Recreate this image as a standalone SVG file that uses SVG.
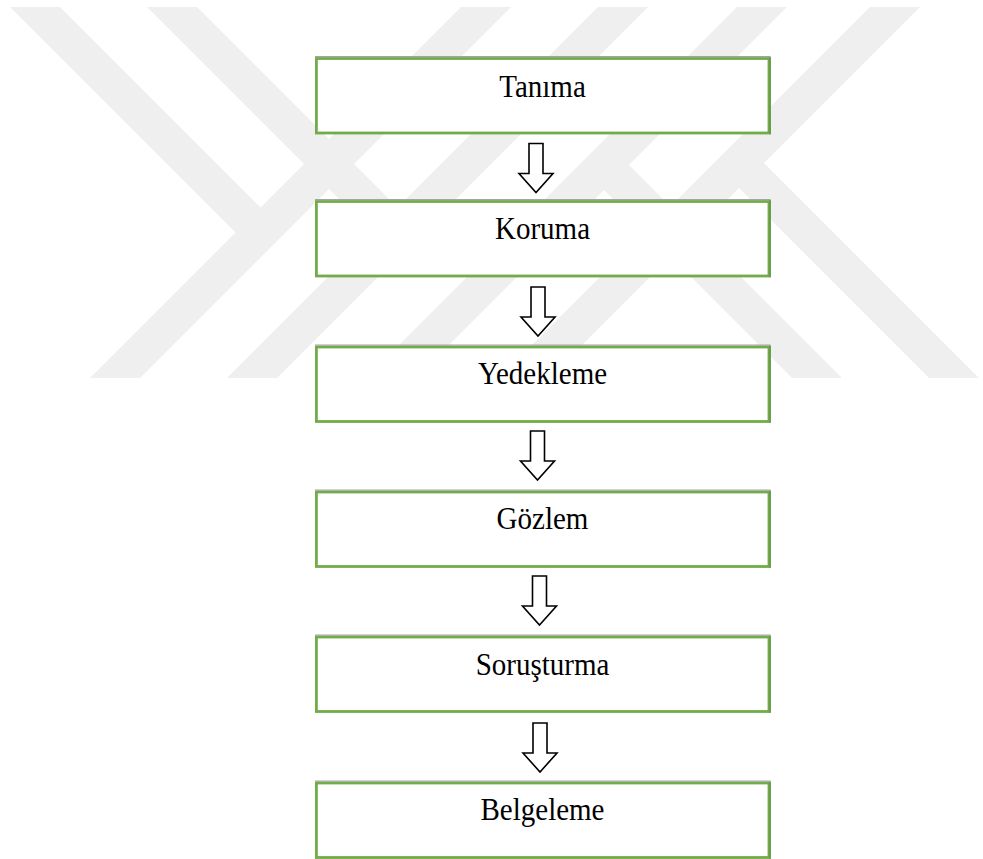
<svg xmlns="http://www.w3.org/2000/svg" width="983" height="859" viewBox="0 0 983 859">
  <defs>
    <style>
      .wm { fill: #efefef; }
      .box { fill: #ffffff; stroke: #70ad47; stroke-width: 2.8; }
      .topline { stroke: #a4a4a4; stroke-width: 1.2; }
      .rim { stroke: #4e7f33; stroke-width: 1; }
      .lbl { font-family: "Liberation Serif", "Times New Roman", serif; font-size: 29px; fill: #000000; text-anchor: middle; }
      .arr { fill: #ffffff; stroke: #000000; stroke-width: 1.6; stroke-linejoin: miter; }
    </style>
    <clipPath id="wmClip">
      <rect x="0" y="7" width="983" height="371"/>
    </clipPath>
    <!-- hollow block arrow pointing down, origin at top centre of the shaft -->
    <polygon id="downArrow" class="arr" points="-7,0 7,0 7,30 17,30 0,49 -17,30 -7,30"/>
    <!-- box frame: white fill, green outline, grey hairline on top, darker right rim -->
    <g id="frame">
      <rect class="box" x="316.4" y="0" width="452.6" height="74.5"/>
      <line class="topline" x1="315" y1="-1.9" x2="770.5" y2="-1.9"/>
      <line class="rim" x1="770.2" y1="-1.4" x2="770.2" y2="75.9"/>
    </g>
  </defs>

  <rect x="0" y="0" width="983" height="859" fill="#ffffff"/>

  <!-- background emblem: diagonal bands -->
  <g id="watermark" clip-path="url(#wmClip)">
    <polygon class="wm" points="468,0 518,0 118,400 68,400"/>
    <polygon class="wm" points="605,0 655,0 255,400 205,400"/>
    <polygon class="wm" points="744,0 794,0 394,400 344,400"/>
    <polygon class="wm" points="877,0 927,0 527,400 477,400"/>
    <polygon class="wm" points="3,0 53,0 265.5,212.5 240.5,237.5"/>
    <polygon class="wm" points="140,0 190,0 402.5,212.5 377.5,237.5"/>
    <polygon class="wm" points="624,160 864,400 814,400 599,185"/>
    <polygon class="wm" points="759,158 1001,400 951,400 734,183"/>
  </g>

  <g id="connectors">
    <use href="#downArrow" x="536" y="143.5"/>
    <use href="#downArrow" x="538" y="287"/>
    <use href="#downArrow" x="537.5" y="431"/>
    <use href="#downArrow" x="539.5" y="576"/>
    <use href="#downArrow" x="540" y="723"/>
  </g>

  <g id="node-tanima">
    <use href="#frame" x="0" y="58.5"/>
    <text class="lbl" transform="translate(542.5,97) scale(1,1.09)">Tanıma</text>
  </g>
  <g id="node-koruma">
    <use href="#frame" x="0" y="201.5"/>
    <text class="lbl" transform="translate(542.5,239) scale(1,1.09)">Koruma</text>
  </g>
  <g id="node-yedekleme">
    <use href="#frame" x="0" y="347"/>
    <text class="lbl" transform="translate(542.5,384) scale(1,1.09)">Yedekleme</text>
  </g>
  <g id="node-gozlem">
    <use href="#frame" x="0" y="492"/>
    <text class="lbl" transform="translate(542.5,528.5) scale(1,1.09)">Gözlem</text>
  </g>
  <g id="node-sorusturma">
    <use href="#frame" x="0" y="637"/>
    <text class="lbl" transform="translate(542.5,675) scale(1,1.09)">Soruşturma</text>
  </g>
  <g id="node-belgeleme">
    <use href="#frame" x="0" y="783"/>
    <text class="lbl" transform="translate(542.5,820) scale(1,1.09)">Belgeleme</text>
  </g>
</svg>
